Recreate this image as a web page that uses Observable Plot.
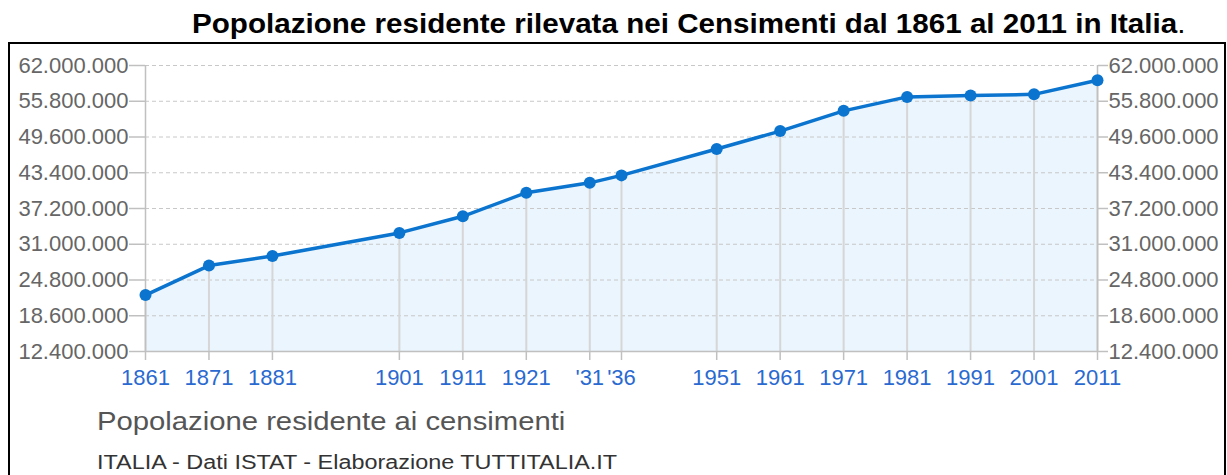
<!DOCTYPE html>
<html>
<head>
<meta charset="utf-8">
<script src="https://cdn.jsdelivr.net/npm/d3@7"></script>
<script src="https://cdn.jsdelivr.net/npm/@observablehq/plot@0.6"></script>
<style>
  html, body { margin: 0; padding: 0; background: #fff; }
  body { position: relative; width: 1227px; height: 475px; overflow: hidden; font-family: "Liberation Sans", Arial, Helvetica, sans-serif; }
  #title { position: absolute; left: 192px; top: 11px; font-size: 27px; line-height: 27px; font-weight: bold; color: #000; white-space: nowrap; transform: scaleX(1.096); transform-origin: 0 0; }
  #title span { font-weight: normal; }
  #box { position: absolute; left: 8px; top: 42px; width: 1218px; height: 520px; border: 2px solid #000; box-sizing: border-box; }
  #chart { position: absolute; left: 0; top: 0; }
  #sub { position: absolute; left: 97px; top: 409px; font-size: 25px; line-height: 25px; color: #555; white-space: nowrap; transform: scaleX(1.17); transform-origin: 0 0; }
  #cap { position: absolute; left: 97px; top: 452px; font-size: 20px; line-height: 20px; color: #333; white-space: nowrap; transform: scaleX(1.17); transform-origin: 0 0; }
</style>
</head>
<body>
<div id="title">Popolazione residente rilevata nei Censimenti dal 1861 al 2011 in Italia<span>.</span></div>
<div id="box"></div>
<div id="chart"></div>
<div id="sub">Popolazione residente ai censimenti</div>
<div id="cap">ITALIA - Dati ISTAT - Elaborazione TUTTITALIA.IT</div>
<script>
const years = [1861, 1871, 1881, 1901, 1911, 1921, 1931, 1936, 1951, 1961, 1971, 1981, 1991, 2001, 2011];
const population = [22182377, 27303509, 28953480, 32965504, 35845048, 39943528, 41651000, 42943602, 47515537, 50623569, 54136547, 56556911, 56778031, 56995744, 59433744];
const xTickLabels = ["1861", "1871", "1881", "1901", "1911", "1921", "'31", "'36", "1951", "1961", "1971", "1981", "1991", "2001", "2011"];
const yTicks = [12400000, 18600000, 24800000, 31000000, 37200000, 43400000, 49600000, 55800000, 62000000];

const itLocale = d3.formatLocale({decimal: ",", thousands: ".", grouping: [3], currency: ["€", ""]});
const fmt = itLocale.format(",d");
const base = yTicks[0];

const chart = Plot.plot({
  width: 1227,
  height: 400,
  marginLeft: 145,
  marginRight: 130,
  marginTop: 65,
  marginBottom: 49,
  style: {fontFamily: "'Liberation Sans', Arial, Helvetica, sans-serif", background: "transparent"},
  x: {type: "linear", domain: [years[0], years[years.length - 1]]},
  y: {domain: [yTicks[0], yTicks[yTicks.length - 1]]},
  marks: [
    Plot.areaY(population, {x: years, y1: base, y2: population, fill: "#eaf5fd"}),
    Plot.ruleY(yTicks.slice(1), {stroke: "#c8c8c8", strokeDasharray: "4,3"}),
    Plot.ruleX(population, {x: years, y1: base, y2: population, stroke: "#d6d6d6", strokeWidth: 2}),
    Plot.ruleX([years[0], years[years.length - 1]], {stroke: "#c0c0c0", strokeWidth: 1.5}),
    Plot.ruleY([base], {stroke: "#c0c0c0", strokeWidth: 1.5}),
    Plot.axisY(yTicks, {anchor: "left", tickFormat: fmt, tickSize: 16, tickPadding: 1, stroke: "#c0c0c0", strokeWidth: 1.5, fill: "#666", fontSize: 22, label: null}),
    Plot.axisY(yTicks, {anchor: "right", tickFormat: fmt, tickSize: 10, tickPadding: 1, stroke: "#c0c0c0", strokeWidth: 1.5, fill: "#666", fontSize: 22, label: null}),
    Plot.axisX(years, {tickFormat: d => xTickLabels[years.indexOf(d)], tickSize: 9, tickPadding: 9, stroke: "#c0c0c0", strokeWidth: 1.5, fill: "#2a6ad0", fontSize: 22, label: null}),
    Plot.lineY(population, {x: years, y: population, stroke: "#0a74cf", strokeWidth: 3.5}),
    Plot.dot(population, {x: years, y: population, r: 6, fill: "#0a74cf", stroke: "none"})
  ]
});
document.getElementById("chart").appendChild(chart);
</script>
</body>
</html>
